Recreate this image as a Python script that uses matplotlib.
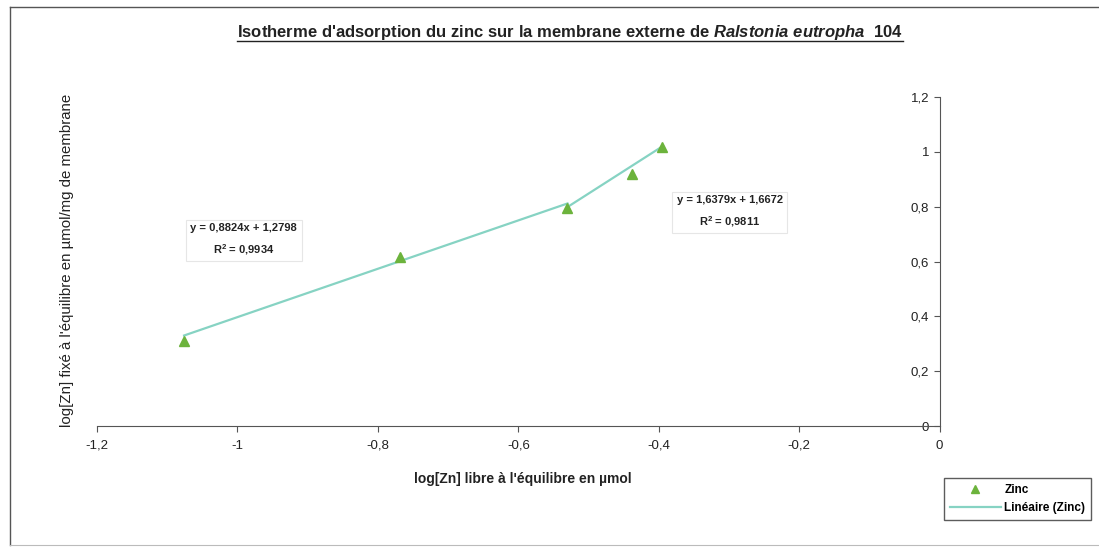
import matplotlib.pyplot as plt
from matplotlib.lines import Line2D
import numpy as np

plt.rcParams['font.family'] = ['Liberation Sans', 'DejaVu Sans']
plt.rcParams['mathtext.fontset'] = 'custom'
plt.rcParams['mathtext.rm'] = 'Liberation Sans'
plt.rcParams['mathtext.it'] = 'Liberation Sans:italic:bold'
plt.rcParams['mathtext.bf'] = 'Liberation Sans:bold'

# donnees
log_zn_libre = [-1.076, -0.769, -0.530, -0.438, -0.396]
log_zn_fixe = [0.31, 0.617, 0.796, 0.92, 1.018]

# deux droites de tendance
pente1, ordo1 = 0.8824, 1.2798
pente2, ordo2 = 1.6379, 1.6672
eq1 = "y = 0,8824x + 1,2798\nR$^\\mathbf{2}$ = 0,9934"
eq2 = "y = 1,6379x + 1,6672\nR$^\\mathbf{2}$ = 0,9811"

x_ticks = [-1.2, -1, -0.8, -0.6, -0.4, -0.2, 0]
x_labels = ['-1,2', '-1', '-0,8', '-0,6', '-0,4', '-0,2', '0']
y_ticks = [0, 0.2, 0.4, 0.6, 0.8, 1, 1.2]
y_labels = ['0', '0,2', '0,4', '0,6', '0,8', '1', '1,2']

vert = '#6cb33c'
ligne = '#86d3c3'
texte = '#222222'

fig = plt.figure(figsize=(10.99, 5.49), dpi=100)
ax = fig.add_axes([0.0883, 0.224, 0.7667, 0.599])

# droites de tendance
xa = np.array([log_zn_libre[0], log_zn_libre[2]])
xb = np.array([log_zn_libre[2], log_zn_libre[4]])
ax.plot(xa, pente1 * xa + ordo1, color=ligne, lw=1.6, zorder=2)
ax.plot(xb, pente2 * xb + ordo2, color=ligne, lw=1.6, zorder=2)
ax.plot(log_zn_libre, log_zn_fixe, linestyle='none', marker='^', markersize=6.5,
        color=vert, zorder=3)

ax.set_xlim(-1.2, 0)
ax.set_ylim(0, 1.2)
ax.set_xticks(x_ticks)
ax.set_xticklabels(x_labels)
ax.set_yticks(y_ticks)
ax.set_yticklabels(y_labels)
ax.spines['left'].set_position(('data', 0))
ax.spines['top'].set_visible(False)
ax.spines['right'].set_visible(False)
for s in ['left', 'bottom']:
    ax.spines[s].set_color('#555555')
    ax.spines[s].set_linewidth(0.8)
ax.tick_params(axis='both', labelsize=9.5, labelcolor=texte, color='#555555',
               length=4, width=0.8)
ax.tick_params(axis='x', pad=6)

# equations
boite = dict(boxstyle='square,pad=0.4', facecolor='white', edgecolor='#e6e6e6', lw=0.8)
ax.text(-0.991, 0.679, eq1, fontsize=8, fontweight='bold', ha='center', va='center',
        linespacing=1.8, color=texte, bbox=boite)
ax.text(-0.299, 0.781, eq2, fontsize=8, fontweight='bold', ha='center', va='center',
        linespacing=1.8, color=texte, bbox=boite)

# titres
titre = fig.text(0.519, 0.94,
                 r"Isotherme d'adsorption du zinc sur la membrane externe de $\it{Ralstonia\ eutropha}$  104",
                 fontsize=12, fontweight='bold', ha='center', va='center', color=texte)
fig.text(0.476, 0.128, "log[Zn] libre à l'équilibre en µmol", fontsize=10,
         fontweight='bold', ha='center', va='center', color=texte)
fig.text(0.061, 0.525, "log[Zn] fixé à l'équilibre en µmol/mg de membrane", fontsize=10.8,
         rotation=90, ha='center', va='center', color=texte)

# soulignement du titre
fig.canvas.draw()
bb = titre.get_window_extent().transformed(fig.transFigure.inverted())
fig.add_artist(Line2D([bb.x0, bb.x1], [bb.y0 + 0.002, bb.y0 + 0.002],
                      color=texte, lw=1.0, transform=fig.transFigure))

# legende
leg_items = [Line2D([], [], linestyle='none', marker='^', color=vert, markersize=6),
             Line2D([], [], color=ligne, lw=1.6)]
leg = fig.legend(leg_items, ['Zinc', 'Linéaire (Zinc)'], loc='center',
                 bbox_to_anchor=(0.926, 0.091), frameon=True, fancybox=False,
                 edgecolor='#333333', handlelength=4.3, handletextpad=0.3,
                 borderpad=0.5, labelspacing=0.5, borderaxespad=0,
                 prop={'size': 8.5, 'weight': 'bold'})
leg.get_frame().set_linewidth(1.0)

# cadre du graphique (haut et gauche visibles, bas pale)
fig.add_artist(Line2D([0.009, 1.0], [0.987, 0.987], color='#555555', lw=1.0,
                      transform=fig.transFigure))
fig.add_artist(Line2D([0.009, 0.009], [0.987, 0.008], color='#555555', lw=1.0,
                      transform=fig.transFigure))
fig.add_artist(Line2D([0.009, 1.0], [0.008, 0.008], color='#bbbbbb', lw=0.8,
                      transform=fig.transFigure))

fig.savefig('out.png', dpi=100)
